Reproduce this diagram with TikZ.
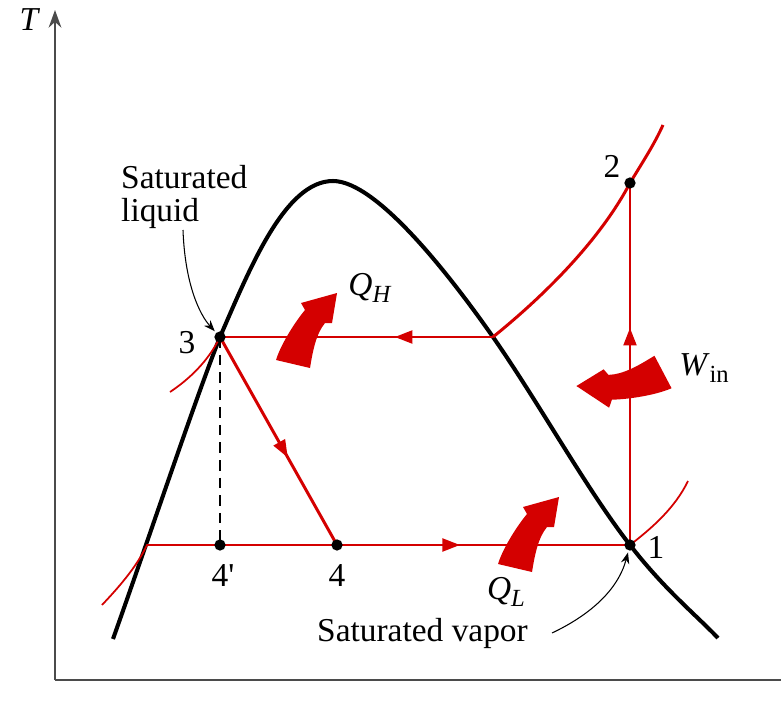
\documentclass[tikz,border=0pt]{standalone}
\usepackage{fontspec}
\setmainfont{Liberation Serif}
\usetikzlibrary{arrows.meta,decorations.markings}

\definecolor{cyclered}{RGB}{212,0,0}
\definecolor{axisgray}{RGB}{75,75,75}

\newcommand{\lowsub}[1]{\raisebox{-0.5ex}{\fontsize{7}{7}\selectfont #1}}

\tikzset{
    dome/.style={line width=1.15pt, black},
    cycleline/.style={line width=0.85pt, cyclered},
    isobar/.style={line width=0.5pt, cyclered},
    flowmark/.style={postaction={decorate}, decoration={markings,
        mark=at position #1 with {\arrow{Triangle[length=5pt,width=3.6pt]}}}},
    statedot/.style={circle, fill=black, inner sep=0pt, minimum size=3.2pt},
    lbl/.style={font=\fontsize{9.5}{9.5}\selectfont, inner sep=1pt},
    note/.style={-{Stealth[length=3.2pt,width=2.4pt]}, line width=0.3pt},
    heat/.pic={
        \fill[cyclered] (-17,-4) -- (17,4) .. controls (20,-14) and (23,-30) .. (32,-41)
            -- (39,-41) -- (44,-71) -- (8,-61) -- (12,-54)
            .. controls (2,-42) and (-12,-20) .. cycle;
    }
}

\begin{document}
\begin{tikzpicture}[x=0.01cm, y=-0.01cm]

    \useasboundingbox (0,0) rectangle (781,712);

    % Axes
    \coordinate (origin) at (55,680);
    \coordinate (ttop) at (55,10);
    \coordinate (sright) at (781,680);
    \draw[axisgray, line width=0.75pt, -{Stealth[length=5pt,width=3.6pt]}] (origin) -- (ttop);
    \draw[axisgray, line width=0.75pt] (origin) -- (sright);
    \node[lbl] (tlabel) at (30,20) {\textit{T}};

    % State points
    \coordinate (p1) at (630,545);
    \coordinate (p2) at (630,183);
    \coordinate (p3) at (220,337);
    \coordinate (p4) at (337,545);
    \coordinate (p4p) at (220,545);
    \coordinate (gsat) at (493,337);
    \coordinate (fsat) at (147,545);
    \coordinate (crit) at (333,181);

    % Saturation dome
    \draw[dome] (113,639) .. controls (150,535) and (195,400) .. (p3)
        .. controls (250,268) and (285,181) .. (crit)
        .. controls (377,181) and (451,277) .. (gsat)
        .. controls (539,403) and (587,490) .. (p1)
        .. controls (665,590) and (695,614) .. (718,638);

    % Isobars outside the cycle
    \draw[isobar] (102,605) .. controls (118,588) and (136,568) .. (fsat) -- (p4);
    \draw[isobar] (p1) .. controls (652,528) and (675,508) .. (688,481);
    \draw[isobar] (170,392) .. controls (188,380) and (208,362) .. (p3);

    % Cycle
    \draw[cycleline] (gsat) .. controls (545,295) and (600,240) .. (p2)
        .. controls (642,163) and (654,145) .. (663,125);
    \draw[cycleline, flowmark=0.6] (p1) -- (p2);
    \draw[cycleline, flowmark=0.36] (gsat) -- (p3);
    \draw[cycleline, flowmark=0.58] (p3) -- (p4);
    \draw[cycleline, flowmark=0.42] (p4) -- (p1);
    \draw[dashed, dash pattern=on 3pt off 2pt, line width=0.5pt] (p3) -- (p4p);

    % Points
    \foreach \p in {p1,p2,p3,p4,p4p}
        \node[statedot] at (\p) {};
    \node[lbl] (l1) at (656,547) {1};
    \node[lbl] (l2) at (612,166) {2};
    \node[lbl] (l3) at (187,343) {3};
    \node[lbl] (l4) at (337,576) {4};
    \node[lbl] (l4p) at (223,576) {4\textquotesingle};

    % Heat and work arrows
    \pic at (293,364) {heat};
    \pic at (515,568) {heat};
    \pic[rotate=131, scale=1.05] at (663,372) {heat};
    \node[lbl] (qh) at (370,288) {\textit{Q}\lowsub{\textit{H}}};
    \node[lbl] (ql) at (506,592) {\textit{Q}\lowsub{\textit{L}}};
    \node[lbl] (win) at (704,368) {\textit{W}\lowsub{in}};

    % Notes
    \node[lbl, align=left, anchor=north west] (satliq) at (117,161) {Saturated\\liquid};
    \node[lbl, anchor=base west] (satvap) at (313,641) {Saturated vapor};
    \draw[note, shorten >=2.2pt] (183,230) .. controls (185,285) and (200,315) .. (p3);
    \draw[note, shorten >=2.2pt] (552,633) .. controls (590,615) and (618,590) .. (p1);

\end{tikzpicture}
\end{document}
